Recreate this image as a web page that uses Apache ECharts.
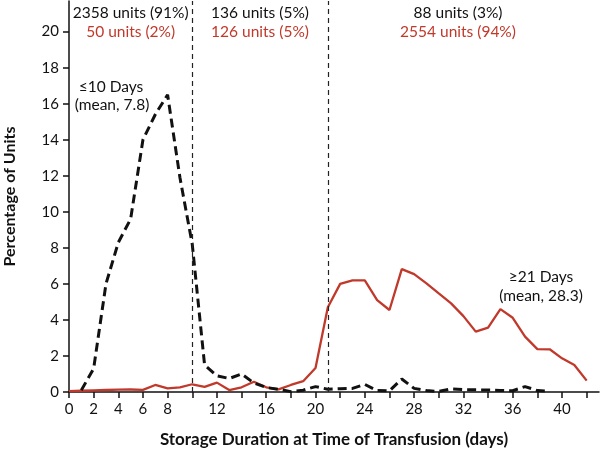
<!DOCTYPE html>
<html><head><meta charset="utf-8">
<script src="https://cdn.jsdelivr.net/npm/echarts@6/dist/echarts.min.js"></script>
<style>html,body{margin:0;padding:0;background:#fff}#c{width:600px;height:453px}</style>
</head><body><div id="c"></div>
<script>
// Storage duration (days) for each group
const shortDays = [1,2,3,4,5,6,7,8,9,10,11,12,13,14,15,16,17,18,19,20,21,22,23,24,25,26,27,28,29,30,31,32,33,34,35,36,37,38,39];
const shortPct  = [0.1,1.3,6.0,8.3,9.6,14.0,15.4,16.5,11.9,8.2,1.5,0.9,0.75,1.0,0.5,0.25,0.15,0.02,0.1,0.3,0.15,0.18,0.2,0.42,0.08,0.06,0.72,0.2,0.08,0.03,0.17,0.13,0.12,0.11,0.09,0.07,0.3,0.08,0.05];
const longDays = [0,1,2,3,4,5,6,7,8,9,10,11,12,13,14,15,16,17,18,19,20,21,22,23,24,25,26,27,28,29,30,31,32,33,34,35,36,37,38,39,40,41,42];
const longPct  = [0.05,0.07,0.09,0.11,0.13,0.14,0.12,0.39,0.2,0.26,0.43,0.28,0.52,0.11,0.26,0.57,0.26,0.15,0.39,0.6,1.33,4.7,6.0,6.2,6.2,5.1,4.55,6.82,6.54,6.03,5.47,4.92,4.21,3.35,3.57,4.6,4.12,3.07,2.38,2.37,1.87,1.5,0.63];
const xTicks = [0,2,4,6,8,10,12,14,16,18,20,22,24,26,28,30,32,34,36,38,40,42];
const xLabels = [0,2,4,6,8,12,16,20,24,28,32,36,40];
const yTicks = [0,2,4,6,8,10,12,14,16,18,20];
const cutoffs = [10, 21];

const RED = '#c0392b';
const FONT = 'Lato';
const chart = echarts.init(document.getElementById('c'), null, {renderer:'canvas'});
const option = {
  backgroundColor:'#fff',
  animation:false,
  grid:{left:69, right:1, top:1, bottom:61, containLabel:false, outerBoundsMode:'none'},
  xAxis:{
    type:'value', min:0, max:43,
    name:'Storage Duration at Time of Transfusion (days)',
    nameLocation:'middle', nameGap:39,
    nameTextStyle:{fontFamily:FONT, fontWeight:'bold', fontSize:17, color:'#111'},
    axisLine:{show:true, lineStyle:{color:'#111', width:1.5}},
    axisTick:{show:true, inside:false, length:6, lineStyle:{color:'#111', width:1.5}, customValues:xTicks},
    axisLabel:{fontFamily:FONT, fontSize:15, color:'#111', margin:10, customValues:xLabels},
    splitLine:{show:false}
  },
  yAxis:{
    type:'value', min:0, max:21.7,
    name:'Percentage of Units',
    nameLocation:'middle', nameGap:51,
    nameTextStyle:{fontFamily:FONT, fontWeight:'bold', fontSize:16, color:'#111'},
    axisLine:{show:true, lineStyle:{color:'#111', width:1.5}},
    axisTick:{show:true, inside:false, length:6, lineStyle:{color:'#111', width:1.5}, customValues:yTicks},
    axisLabel:{fontFamily:FONT, fontSize:15, color:'#111', margin:10, customValues:yTicks},
    splitLine:{show:false}
  },
  series:[
    {
      type:'line', name:'long', data:longDays.map((d,i)=>[d,longPct[i]]),
      showSymbol:false, symbol:'none', lineStyle:{color:RED, width:2.3}, z:2,
      markLine:{
        silent:true, symbol:'none', label:{show:false},
        lineStyle:{color:'#222', width:1.2, type:[5,4]},
        data:cutoffs.map(c=>({xAxis:c}))
      }
    },
    {
      type:'line', name:'short', data:shortDays.map((d,i)=>[d,shortPct[i]]),
      showSymbol:false, symbol:'none', lineStyle:{color:'#111', width:3, type:[9,5]}, z:3
    }
  ]
};
chart.setOption(option);

function T(x,y,text,color){
  return {type:'text', x:x, y:y, style:{text:text, fill:color, font:'15.5px '+FONT, textAlign:'center', textVerticalAlign:'middle'}};
}
const xa = v => chart.convertToPixel({xAxisIndex:0}, v);
const g = [
  T((xa(0)+xa(10))/2, 13, '2358 units (91%)', '#111'),
  T((xa(0)+xa(10))/2, 32, '50 units (2%)', RED),
  T((xa(10)+xa(21))/2, 13, '136 units (5%)', '#111'),
  T((xa(10)+xa(21))/2, 32, '126 units (5%)', RED),
  T(458, 13, '88 units (3%)', '#111'),
  T(458, 32, '2554 units (94%)', RED),
  T(111, 87, '\u226410 Days', '#111'),
  T(112, 105, '(mean, 7.8)', '#111'),
  T(541, 277, '\u226521 Days', '#111'),
  T(541, 296, '(mean, 28.3)', '#111')
];
chart.setOption({graphic: g});
</script></body></html>
